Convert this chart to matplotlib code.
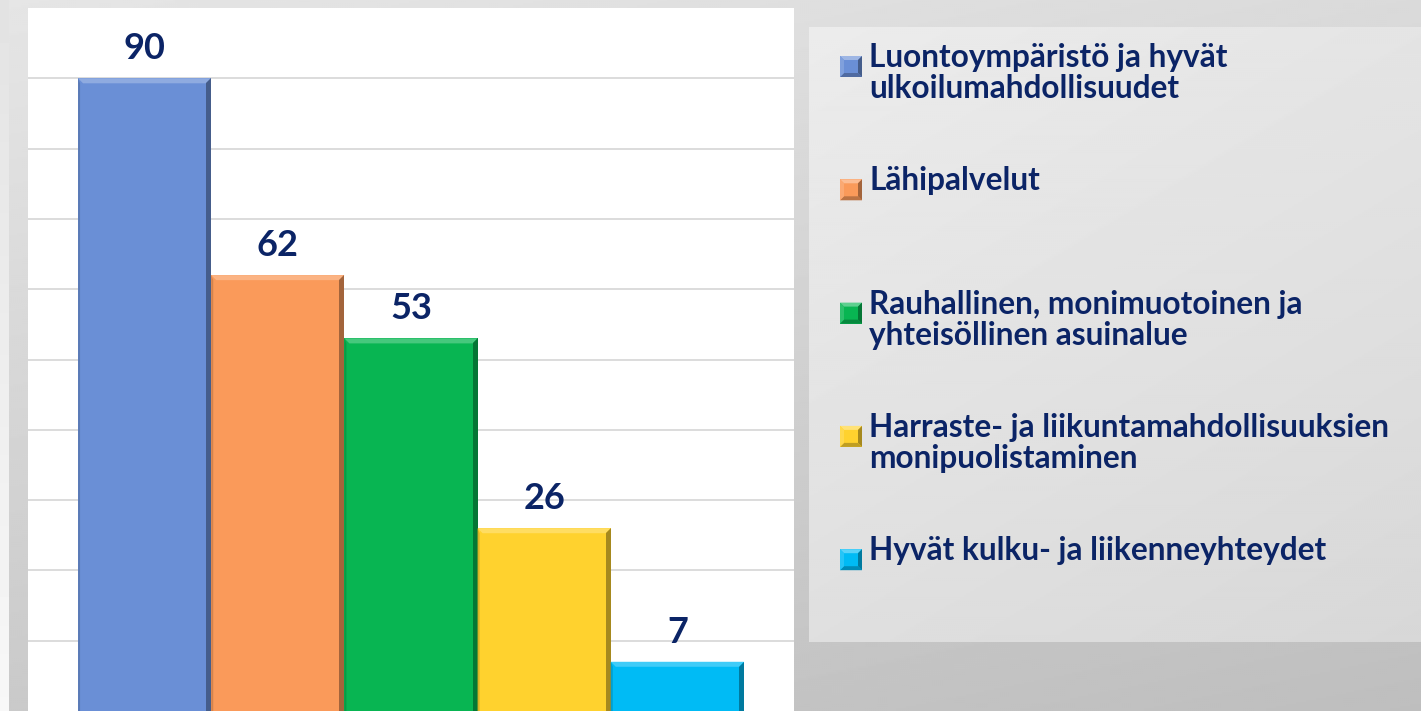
import numpy as np
import matplotlib
matplotlib.use("Agg")
import matplotlib.pyplot as plt
from matplotlib.patches import Polygon, Rectangle
from matplotlib.colors import to_rgb

plt.rcParams["font.family"] = ["Lato", "DejaVu Sans"]

categories = [
    "Luontoympäristö ja hyvät\nulkoilumahdollisuudet",
    "Lähipalvelut",
    "Rauhallinen, monimuotoinen ja\nyhteisöllinen asuinalue",
    "Harraste- ja liikuntamahdollisuuksien\nmonipuolistaminen",
    "Hyvät kulku- ja liikenneyhteydet",
]
values = [90, 62, 53, 26, 7]
colors = ["#6a8fd6", "#fa9a5a", "#08b552", "#ffd22e", "#00bbf5"]
gridlines = [10, 20, 30, 40, 50, 60, 70, 80, 90]

NAVY = "#0b2466"
W, H = 1421, 711


def shade(c, f):
    r = np.array(to_rgb(c))
    if f >= 0:
        return tuple(r + (1 - r) * f)
    return tuple(r * (1 + f))


fig = plt.figure(figsize=(W / 100, H / 100), dpi=100)

# background in pixel coordinates
bg = fig.add_axes([0, 0, 1, 1], zorder=0)
bg.axis("off")
yy, xx = np.mgrid[0:H:2, 0:W:2]
frame = 0.90 - 0.11 * (yy / H) - 0.045 * (xx / W)
bg.imshow(frame, cmap="gray", vmin=0, vmax=1, extent=(0, W, H, 0), aspect="auto")
strip = np.linspace(0.89, 0.97, 50)[:, None]
bg.imshow(strip, cmap="gray", vmin=0, vmax=1, extent=(0, 9, H, 0), aspect="auto")

# legend box
ly, lx = np.mgrid[0:615:2, 0:612:2]
lgrad = 0.925 - 0.05 * (ly / 615) - 0.03 * (lx / 612)
bg.imshow(lgrad, cmap="gray", vmin=0, vmax=1, extent=(809, W, 642, 27), aspect="auto")
bg.set_xlim(0, W)
bg.set_ylim(H, 0)

# legend entries
y0, step = 66, 123.3
for i, (lab, col) in enumerate(zip(categories, colors)):
    cy = y0 + step * i
    x0, x1 = 840, 862
    t, b = cy - 10, cy + 11
    bv = 4
    bg.add_patch(Rectangle((x0, t), x1 - x0, b - t, facecolor=col, edgecolor="none"))
    bg.add_patch(Polygon([(x0, t), (x1, t), (x1 - bv, t + bv), (x0 + bv, t + bv)],
                         facecolor=shade(col, 0.35), edgecolor="none"))
    bg.add_patch(Polygon([(x1, t), (x1, b), (x1 - bv, b - bv), (x1 - bv, t + bv)],
                         facecolor=shade(col, -0.35), edgecolor="none"))
    bg.add_patch(Polygon([(x0, b), (x1, b), (x1 - bv, b - bv), (x0 + bv, b - bv)],
                         facecolor=shade(col, -0.25), edgecolor="none"))
    bg.add_patch(Polygon([(x0, t), (x0, b), (x0 + bv, b - bv), (x0 + bv, t + bv)],
                         facecolor=shade(col, 0.15), edgecolor="none"))
    for j, line in enumerate(lab.split("\n")):
        bg.text(869, cy + 1 + 31 * j, line, fontsize=22.8, fontweight="bold",
                color=NAVY, va="baseline", ha="left")

# plot area
ax = fig.add_axes([28 / W, 0, (794 - 28) / W, (H - 8) / H], zorder=1)
ax.set_facecolor("white")
x = np.arange(len(values))
bars = ax.bar(x, values, width=1.0, color=colors, edgecolor="none", zorder=3)
ax.set_xlim(-0.876, len(values) - 1 + 0.876)
ax.set_ylim(0, 100)
for g in gridlines:
    ax.axhline(g, color="#d9d9d9", linewidth=1.3, zorder=1)
for s in ax.spines.values():
    s.set_visible(False)
ax.set_xticks([])
ax.set_yticks([])

# bevel on bars (sizes in pixels converted to data units)
pxx = (ax.get_xlim()[1] - ax.get_xlim()[0]) / (794 - 28)
pxy = 100 / (H - 8)
bw, bh = 5 * pxx, 5 * pxy
for bar, col in zip(bars, colors):
    bx0 = bar.get_x()
    bx1 = bx0 + bar.get_width()
    top = bar.get_height()
    ax.add_patch(Polygon([(bx0, top), (bx1, top), (bx1 - bw, top - bh), (bx0 + bw, top - bh)],
                         facecolor=shade(col, 0.25), edgecolor="none", zorder=4))
    ax.add_patch(Polygon([(bx1, top), (bx1, 0), (bx1 - bw, 0), (bx1 - bw, top - bh)],
                         facecolor=shade(col, -0.35), edgecolor="none", zorder=4))
    ax.add_patch(Polygon([(bx0, top), (bx0 + 2 * pxx, top - bh), (bx0 + 2 * pxx, 0), (bx0, 0)],
                         facecolor=shade(col, -0.15), edgecolor="none", zorder=4))
    ax.annotate(str(int(top)), (bar.get_x() + bar.get_width() / 2, top),
                xytext=(0, 13.7), textcoords="offset points", ha="center",
                va="baseline", fontsize=26, fontweight="bold", color=NAVY, zorder=5)

fig.savefig("out.png", dpi=100)
